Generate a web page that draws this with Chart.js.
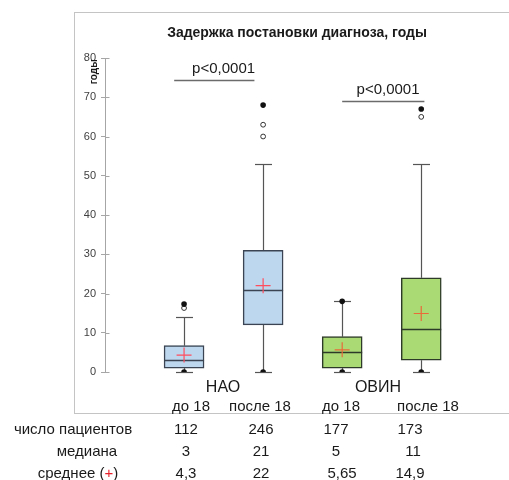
<!DOCTYPE html>
<html>
<head>
<meta charset="utf-8">
<script src="https://cdn.jsdelivr.net/npm/chart.js@4/dist/chart.umd.min.js"></script>
<style>
  html, body { margin: 0; padding: 0; background: #fff; }
  #wrap { position: relative; width: 509px; height: 480px; overflow: hidden; font-family: "Liberation Sans", Arial, sans-serif; color: #1a1a1a; }
  #frame { position: absolute; left: 74px; top: 12px; width: 460px; height: 402px; border: 1px solid #c4c4c4; box-sizing: border-box; }
  #c { position: absolute; left: 0; top: 0; }
  .t { position: absolute; white-space: nowrap; transform: translate(-50%, -50%); line-height: 1; }
  .title { font-weight: bold; font-size: 14px; }
  .grp { font-size: 16px; }
  .sub { font-size: 15px; }
  .cell { font-size: 15px; }
  .red { color: #e8202a; }
</style>
</head>
<body>
<div id="wrap">
  <div id="frame"></div>
  <canvas id="c" width="509" height="480"></canvas>
  <div id="labels"></div>
</div>
<script>
// Delay in diagnosis (years) by group and age at onset
const groups = ['НАО', 'ОВИН'];
const subgroups = ['до 18', 'после 18', 'до 18', 'после 18'];
const patients = [112, 246, 177, 173];
const medians = [3, 21, 5, 11];
const means = [4.3, 22, 5.65, 14.9];
const q1 = [1, 12, 1, 3];
const q3 = [6.7, 31, 9, 24];
const whiskerLow = [0, 0, 0, 0];
const whiskerHigh = [14, 53, 18, 53];
const extremeLow = [0, 0, 0, 0];
const extremeHigh = [null, null, 18, null];
const outliersFilled = [[17.3], [68], [], [67]];
const outliersOpen = [[16.3], [63, 60], [], [65]];
const pLabels = ['p<0,0001', 'p<0,0001'];
const rowTitles = ['число пациентов', 'медиана', 'среднее'];

const boxFill = ['#bdd7ee', '#bdd7ee', '#a9da74', '#a9da74'];
const boxEdge = ['#3a4452', '#3a4452', '#2e3a28', '#2e3a28'];
const crossColor = ['#ff4d5e', '#ff4d5e', '#ea6a3a', '#ea6a3a'];

const xs = subgroups.map((_, i) => i + 1);

const boxData = xs.map((x, i) => ({ x, y: [q1[i], q3[i]] }));
const meanData = xs.map((x, i) => ({ x, y: means[i] }));
const filledData = [];
xs.forEach((x, i) => {
  outliersFilled[i].forEach(v => filledData.push({ x, y: v }));
  filledData.push({ x, y: extremeLow[i] });
  if (extremeHigh[i] !== null) filledData.push({ x, y: extremeHigh[i] });
});
const openData = [];
xs.forEach((x, i) => outliersOpen[i].forEach(v => openData.push({ x, y: v })));

// significance brackets between the age groups
const brackets = [
  { x1: 0.875, x2: 1.89, y: 74.3, tx: 1.5, label: pLabels[0] },
  { x1: 3.0, x2: 4.04, y: 69.1, tx: 3.58, label: pLabels[1] }
];

const boxPlotExtras = {
  id: 'boxPlotExtras',
  beforeDatasetsDraw(chart) {
    const { ctx, scales: { x, y } } = chart;
    ctx.save();
    ctx.strokeStyle = '#555';
    ctx.lineWidth = 1.2;
    xs.forEach((xv, i) => {
      const px = Math.round(x.getPixelForValue(xv)) + 0.5;
      const segs = [[q3[i], whiskerHigh[i]], [q1[i], whiskerLow[i]]];
      segs.forEach(([a, b]) => {
        ctx.beginPath();
        ctx.moveTo(px, y.getPixelForValue(a));
        ctx.lineTo(px, y.getPixelForValue(b));
        ctx.stroke();
        const cy = Math.round(y.getPixelForValue(b)) + 0.5;
        ctx.beginPath();
        ctx.moveTo(px - 8.5, cy);
        ctx.lineTo(px + 8.5, cy);
        ctx.stroke();
      });
    });
    // crossing tick marks on the value axis
    ctx.strokeStyle = '#a6a6a6';
    ctx.lineWidth = 1;
    const ax = Math.round(chart.chartArea.left) + 0.5;
    y.ticks.forEach(t => {
      const py = Math.round(y.getPixelForValue(t.value)) + 0.5;
      ctx.beginPath();
      ctx.moveTo(ax, py);
      ctx.lineTo(ax + 4, py);
      ctx.stroke();
    });
    ctx.restore();
  },
  afterDatasetDraw(chart, args) {
    if (args.index !== 0) return;
    const { ctx, scales: { x, y } } = chart;
    ctx.save();
    ctx.lineWidth = 1.5;
    xs.forEach((xv, i) => {
      const px = x.getPixelForValue(xv);
      const py = Math.round(y.getPixelForValue(medians[i])) + 0.5;
      ctx.strokeStyle = boxEdge[i];
      ctx.beginPath();
      ctx.moveTo(px - 20, py);
      ctx.lineTo(px + 20, py);
      ctx.stroke();
    });
    ctx.restore();
  },
  afterDraw(chart) {
    const { ctx, scales: { x, y } } = chart;
    ctx.save();
    ctx.strokeStyle = '#6b6b6b';
    ctx.lineWidth = 1.3;
    ctx.fillStyle = '#1a1a1a';
    ctx.font = '15px "Liberation Sans", Arial, sans-serif';
    ctx.textAlign = 'center';
    ctx.textBaseline = 'alphabetic';
    brackets.forEach(b => {
      const py = Math.round(y.getPixelForValue(b.y)) + 0.5;
      ctx.beginPath();
      ctx.moveTo(x.getPixelForValue(b.x1), py);
      ctx.lineTo(x.getPixelForValue(b.x2), py);
      ctx.stroke();
      ctx.fillText(b.label, x.getPixelForValue(b.tx), py - 8);
    });
    // value axis title
    ctx.font = 'bold 10px "Liberation Sans", Arial, sans-serif';
    ctx.translate(chart.chartArea.left - 11, y.getPixelForValue(76.5));
    ctx.rotate(-Math.PI / 2);
    ctx.textBaseline = 'middle';
    ctx.fillText('годы', 0, 0);
    ctx.restore();
  }
};

new Chart(document.getElementById('c'), {
  type: 'bar',
  data: {
    datasets: [
      {
        type: 'bar',
        data: boxData,
        backgroundColor: boxFill,
        borderColor: boxEdge,
        borderWidth: 1.5,
        borderSkipped: false,
        barThickness: 40,
        order: 3
      },
      {
        type: 'scatter',
        data: meanData,
        pointStyle: 'cross',
        pointRadius: 7.5,
        borderColor: crossColor,
        borderWidth: 1.2,
        order: 1
      },
      {
        type: 'scatter',
        data: filledData,
        pointStyle: 'circle',
        pointRadius: 2.8,
        backgroundColor: '#111',
        borderColor: '#111',
        borderWidth: 0,
        order: 2
      },
      {
        type: 'scatter',
        data: openData,
        pointStyle: 'circle',
        pointRadius: 2.4,
        backgroundColor: '#fff',
        borderColor: '#333',
        borderWidth: 1,
        order: 2
      }
    ]
  },
  options: {
    responsive: false,
    animation: false,
    events: [],
    layout: { padding: { left: 65, top: 58, right: 6, bottom: 108 } },
    plugins: { legend: { display: false }, tooltip: { enabled: false }, title: { display: false } },
    scales: {
      x: { type: 'linear', min: 0, max: 5, offset: false, display: false },
      y: {
        min: 0, max: 80,
        afterFit: s => { s.width = 40; },
        ticks: { stepSize: 10, padding: 5, color: '#404040', font: { family: '"Liberation Sans", Arial, sans-serif', size: 11 } },
        grid: { drawOnChartArea: false, drawTicks: true, tickLength: 4, color: '#a6a6a6' },
        border: { display: true, color: '#a6a6a6', width: 1 }
      }
    }
  },
  plugins: [boxPlotExtras]
});

// text around the plot: title, group labels and the summary table
const labelBox = document.getElementById('labels');
function put(text, x, y, cls, html) {
  const el = document.createElement('div');
  el.className = 't ' + cls;
  if (html) el.innerHTML = text; else el.textContent = text;
  el.style.left = x + 'px';
  el.style.top = y + 'px';
  labelBox.appendChild(el);
}
put('Задержка постановки диагноза, годы', 297, 32, 'title');
const groupX = [223, 378];
groups.forEach((g, i) => put(g, groupX[i], 387, 'grp'));
const subX = [191, 260, 341, 428];
subgroups.forEach((s, i) => put(s, subX[i], 405, 'sub'));
const colX = [186, 261, 336, 410];
const rowY = [428, 450, 472];
put(rowTitles[0], 73, rowY[0], 'cell');
put(rowTitles[1], 87, rowY[1], 'cell');
put(rowTitles[2] + ' (<span class="red">+</span>)', 78, rowY[2], 'cell', true);
patients.forEach((v, i) => put(String(v), colX[i], rowY[0], 'cell'));
medians.forEach((v, i) => put(String(v), colX[i] + (i === 3 ? 3 : 0), rowY[1], 'cell'));
means.forEach((v, i) => put(String(v).replace('.', ','), colX[i] + (i === 2 ? 6 : 0), rowY[2], 'cell'));
</script>
</body>
</html>
